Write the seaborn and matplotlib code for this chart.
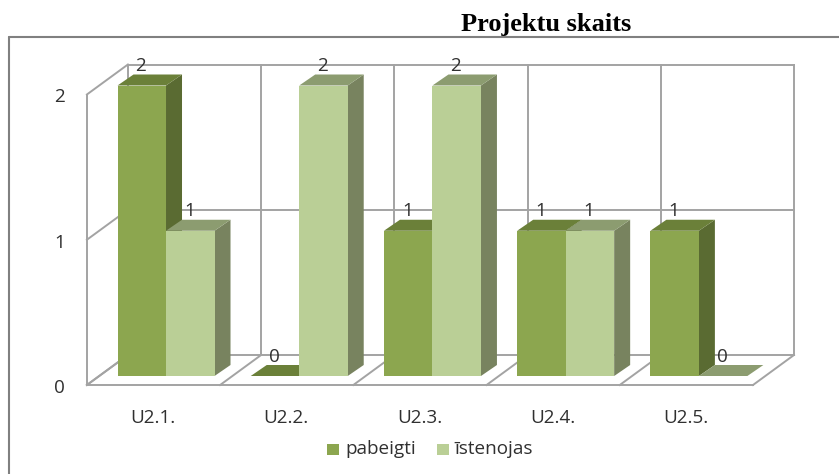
import matplotlib
matplotlib.use("Agg")
import matplotlib.pyplot as plt
import pandas as pd
import seaborn as sns
from matplotlib.patches import Polygon, Rectangle
from matplotlib.lines import Line2D

categories = ["U2.1.", "U2.2.", "U2.3.", "U2.4.", "U2.5."]
pabeigti = [2, 0, 1, 1, 1]
istenojas = [1, 2, 2, 1, 0]
series_names = ["pabeigti", "īstenojas"]
y_ticks = [0, 1, 2]
title = "Projektu skaits"

W, H = 839, 474
sns.set_theme(style="white")
plt.rcParams["font.family"] = ["Open Sans", "DejaVu Sans"]

df = pd.DataFrame({
    "cat": categories * 2,
    "val": pabeigti + istenojas,
    "series": [series_names[0]] * 5 + [series_names[1]] * 5,
})

FRONT = ["#8CA64F", "#BACF96"]
SIDE = ["#5A6B32", "#78835F"]
TOP = ["#6B8039", "#8C9C70"]
GRID = "#A3A3A3"
TXT = "#303030"
FS = 13.6

fig = plt.figure(figsize=(W / 100, H / 100), dpi=100, facecolor="white")
# axes = plane of the bars' front faces
L, R, B, T = 99.4, 765.5, 376.0, 85.5
ax = fig.add_axes([L / W, 1 - B / H, (R - L) / W, (B - T) / H])
ax.patch.set_alpha(0)
sns.barplot(data=df, x="cat", y="val", hue="series", palette=FRONT, width=0.728,
            gap=0, saturation=1, legend=False, ax=ax, zorder=5, linewidth=0)
ax.set_xlim(-0.5, 4.5)
ax.set_ylim(0, 2)
for s in ax.spines.values():
    s.set_visible(False)
ax.set_xlabel("")
ax.set_ylabel("")
ax.set_xticks([])
ax.set_yticks([])

upx = 5 / (R - L)      # data x per pixel
vpx = 2 / (B - T)      # data y per pixel


def pt(x, y, ox=0, oy=0):
    return (x + ox * upx, y + oy * vpx)


# wall and floor frame (offsets in pixels from the bar plane)
fx, fy = -12.5, -9
bx, by = 28.5, 21
edges = [-0.5 + i for i in range(6)]
segs = []
for e in edges:
    segs.append((pt(e, 0, bx, by), pt(e, 2, bx, by)))
    segs.append((pt(e, 0, bx, by), pt(e, 0, fx, fy)))
for yv in y_ticks:
    segs.append((pt(-0.5, yv, bx, by), pt(4.5, yv, bx, by)))
    segs.append((pt(-0.5, yv, bx, by), pt(-0.5, yv, fx, fy)))
segs.append((pt(-0.5, 0, fx, fy), pt(-0.5, 2, fx, fy)))
segs.append((pt(-0.5, 0, fx, fy), pt(4.5, 0, fx, fy)))
for a, b in segs:
    ax.add_line(Line2D([a[0], b[0]], [a[1], b[1]], color=GRID, lw=1.4,
                       clip_on=False, zorder=1, solid_capstyle="projecting"))

# 3-D faces built from the bars seaborn drew
dx, dy = 16, 11
for k, cont in enumerate(ax.containers):
    vals = cont.datavalues
    for rect, v in zip(cont.patches, vals):
        x0 = rect.get_x()
        x1 = x0 + rect.get_width()
        z = 2 + k * 0.5
        ax.add_patch(Polygon([pt(x0, v), pt(x1, v), pt(x1, v, dx, dy), pt(x0, v, dx, dy)],
                             closed=True, fc=TOP[k], ec="none", clip_on=False, zorder=z + 0.1))
        if v > 0:
            ax.add_patch(Polygon([pt(x1, 0), pt(x1, v), pt(x1, v, dx, dy), pt(x1, 0, dx, dy)],
                                 closed=True, fc=SIDE[k], ec="none", clip_on=False, zorder=z))
        ax.annotate(f"{int(v)}", xy=((x0 + x1) / 2, v), xytext=(-1 * 0.72, 19.5 * 0.72),
                    textcoords="offset points", ha="center", va="center",
                    fontsize=FS, color=TXT, annotation_clip=False, zorder=8)

# category and value labels
for i, c in enumerate(categories):
    ax.annotate(c, xy=(i, 0), xytext=(-13 * 0.72, -42 * 0.72), textcoords="offset points",
                ha="center", va="center", fontsize=FS, color=TXT, annotation_clip=False)
for yv in y_ticks:
    ax.annotate(str(yv), xy=(-0.5, yv), xytext=(-40 * 0.72, -12 * 0.72), textcoords="offset points",
                ha="center", va="center", fontsize=FS, color=TXT, annotation_clip=False)

# legend
for name, col, sx, tx in zip(series_names, FRONT, [327, 437], [345, 454]):
    fig.add_artist(Rectangle((sx / W, 1 - 455 / H), 11.5 / W, 11.5 / H, transform=fig.transFigure,
                             fc=col, ec="none"))
    fig.text(tx / W, 1 - 449.5 / H, name, ha="left", va="center", fontsize=FS, color=TXT)

# page frame
for xs, ys in [((8.5, W), (37, 37)), ((8.5, 8.5), (37, H))]:
    fig.add_artist(Line2D([x / W for x in xs], [1 - y / H for y in ys],
                          color="#808080", lw=1.5, transform=fig.transFigure))

fig.text(546 / W, 1 - 25 / H, title, ha="center", va="center", fontsize=19,
         fontweight="bold", family=["Liberation Serif"], color="black")

fig.savefig("out.png", dpi=100, facecolor="white")
